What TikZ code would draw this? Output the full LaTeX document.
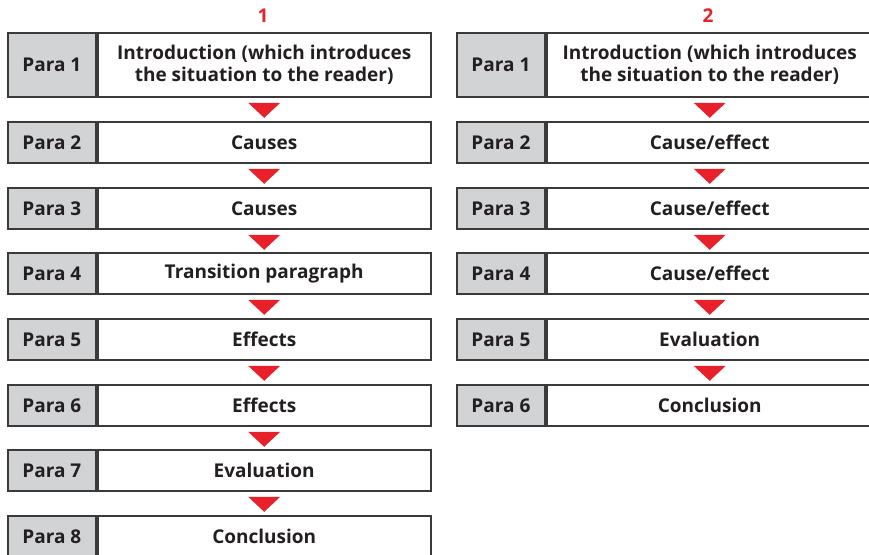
\documentclass[tikz,border=0pt]{standalone}
\usepackage{fontspec}
\setmainfont{Open Sans}
\usepackage{xcolor}
\definecolor{paragray}{HTML}{D2D3D5}
\definecolor{paraline}{HTML}{3A3A3A}
\definecolor{paratext}{HTML}{231F20}
\definecolor{parared}{HTML}{E8202A}

\begin{document}
\begin{tikzpicture}[
	x=1pt,y=-1pt,
	every node/.style={font=\bfseries\fontsize{19}{22}\selectfont,text=paratext,inner sep=0pt},
	parabox/.style={rectangle,draw=paraline,line width=1.8pt,fill=paragray,anchor=north west,minimum width=88pt},
	textbox/.style={rectangle,draw=paraline,line width=1.8pt,fill=white,anchor=north west,align=center},
	headnum/.style={text=parared}
]
	\useasboundingbox (0,0) rectangle (869,554);
	\clip (0,0) rectangle (869,554);
	% plan 1
	\node[headnum] (num1) at (263,16) {1};
	\foreach \i/\top/\h/\txt in {
		1/32/64/{Introduction (which introduces\\the situation to the reader)},
		2/121/41/Causes,
		3/187/41/Causes,
		4/252/41/Transition paragraph,
		5/318/41/Effects,
		6/384/41/Effects,
		7/449/41/Evaluation,
		8/515/41/Conclusion}{
		\node[parabox,minimum height=\h pt] (la\i) at (7,\top) {Para \i};
		\node[textbox,minimum width=333pt,minimum height=\h pt] (ta\i) at (la\i.north east) {\txt};
	}
	\foreach \i in {1,...,7}{
		\fill[parared] ([xshift=-16pt,yshift=-5pt]ta\i.south) -- ([xshift=16pt,yshift=-5pt]ta\i.south) -- ([yshift=-20pt]ta\i.south) -- cycle;
	}
	% plan 2
	\node[headnum] (num2) at (708,16) {2};
	\foreach \i/\top/\h/\txt in {
		1/32/64/{Introduction (which introduces\\the situation to the reader)},
		2/121/41/{Cause/effect},
		3/187/41/{Cause/effect},
		4/252/41/{Cause/effect},
		5/318/41/Evaluation,
		6/384/41/Conclusion}{
		\node[parabox,minimum height=\h pt] (lb\i) at (456,\top) {Para \i};
		\node[textbox,minimum width=326pt,minimum height=\h pt] (tb\i) at (lb\i.north east) {\txt};
	}
	\foreach \i in {1,...,5}{
		\fill[parared] ([xshift=-16pt,yshift=-5pt]tb\i.south) -- ([xshift=16pt,yshift=-5pt]tb\i.south) -- ([yshift=-20pt]tb\i.south) -- cycle;
	}
\end{tikzpicture}
\end{document}
